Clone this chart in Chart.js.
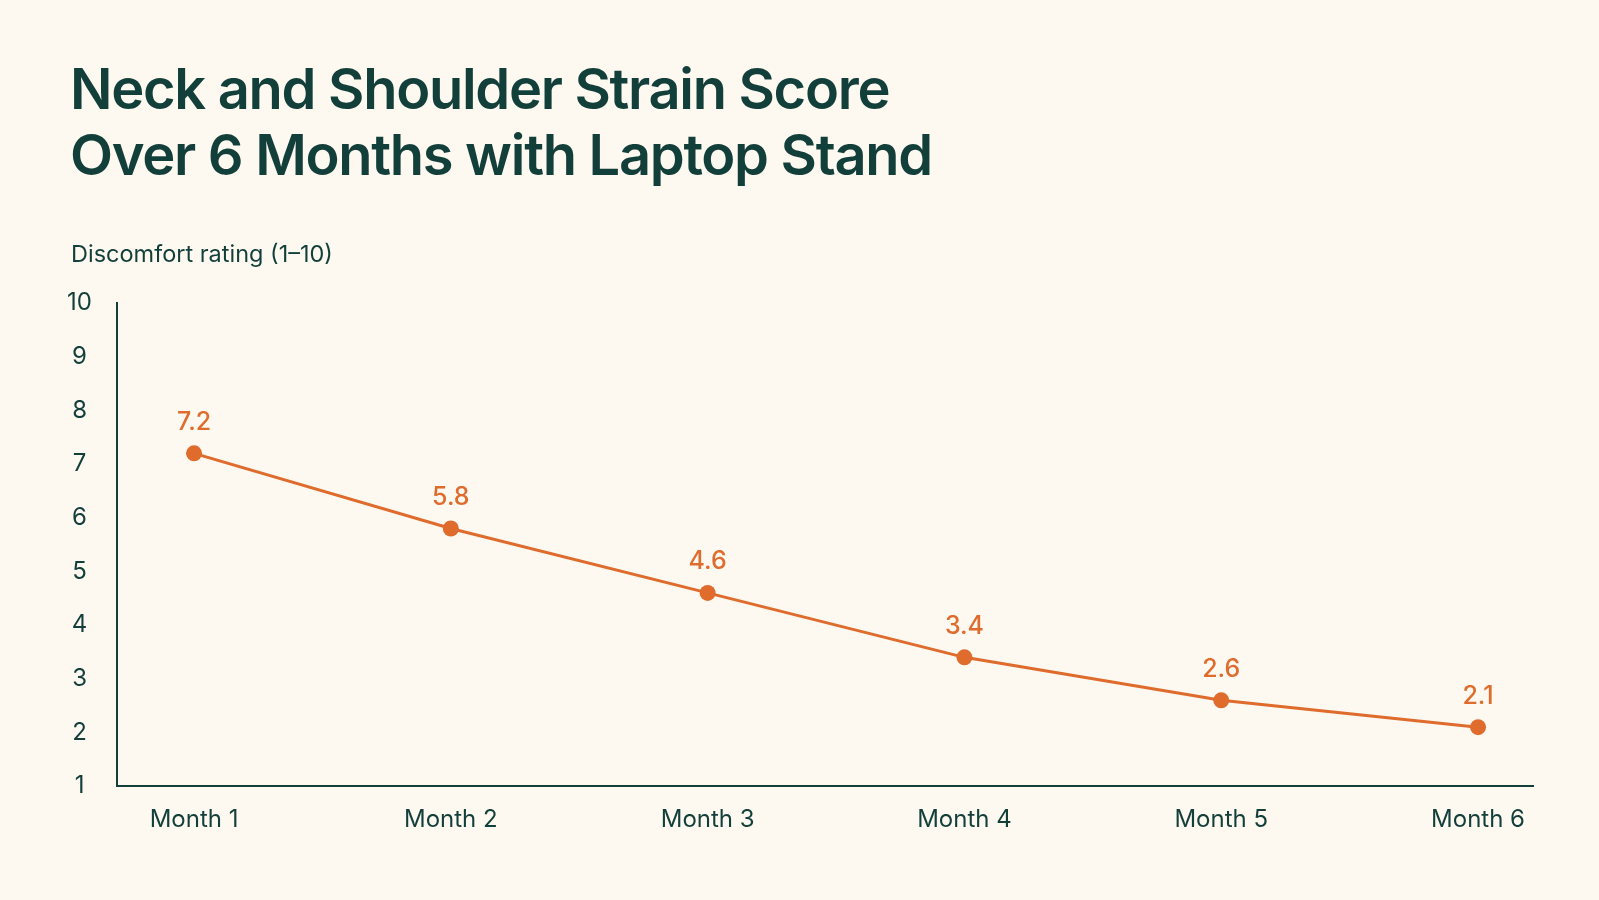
<!DOCTYPE html>
<html>
<head>
<meta charset="utf-8">
<script src="https://cdn.jsdelivr.net/npm/chart.js@4"></script>
<style>
  html, body { margin: 0; padding: 0; background: #fdf9f1; }
  body { width: 1599px; height: 900px; position: relative; overflow: hidden; font-family: Inter, "Noto Sans", sans-serif; }
  #title { position: absolute; left: 70px; top: 56px; font-size: 56px; line-height: 66px; font-weight: 600; color: #133f3a; letter-spacing: -1.3px; }
  #axisTitle { position: absolute; left: 71px; top: 240px; font-size: 23.5px; line-height: 28px; color: #133f3a; }
  #wrap { position: absolute; left: 0; top: 0; width: 1599px; height: 900px; }
</style>
</head>
<body>
<div id="wrap"><canvas id="strainChart"></canvas></div>
<div id="title">Neck and Shoulder Strain Score<br>Over 6 Months with Laptop Stand</div>
<div id="axisTitle">Discomfort rating (1–10)</div>
<script>
// 資料
const months = ['Month 1', 'Month 2', 'Month 3', 'Month 4', 'Month 5', 'Month 6'];
const strainScores = [7.2, 5.8, 4.6, 3.4, 2.6, 2.1];
const yTickValues = [1, 2, 3, 4, 5, 6, 7, 8, 9, 10];

const darkGreen = '#133f3a';
const orange = '#df6b2c';
const fontFamily = 'Inter, "Noto Sans", sans-serif';

// 在每個點上方寫數值
const valueLabels = {
  id: 'valueLabels',
  afterDatasetsDraw(chart) {
    const ctx = chart.ctx;
    const meta = chart.getDatasetMeta(0);
    ctx.save();
    ctx.fillStyle = orange;
    ctx.font = '500 25px ' + fontFamily;
    ctx.textAlign = 'center';
    ctx.textBaseline = 'middle';
    meta.data.forEach((pt, i) => {
      ctx.fillText(strainScores[i].toFixed(1), pt.x, pt.y - 31);
    });
    ctx.restore();
  }
};

const ctx = document.getElementById('strainChart');
new Chart(ctx, {
  type: 'line',
  data: {
    datasets: [{
      data: strainScores.map((v, i) => ({ x: i, y: v })),
      borderColor: orange,
      backgroundColor: orange,
      borderWidth: 3,
      pointRadius: 8,
      pointBackgroundColor: orange,
      pointBorderWidth: 0,
      tension: 0
    }]
  },
  options: {
    responsive: true,
    maintainAspectRatio: false,
    animation: false,
    layout: { padding: { top: 303, right: 66, bottom: 47, left: 0 } },
    plugins: { legend: { display: false }, tooltip: { enabled: false } },
    scales: {
      x: {
        type: 'linear',
        min: -0.3,
        max: 5.214,
        afterBuildTicks: (scale) => { scale.ticks = months.map((_, i) => ({ value: i })); },
        ticks: {
          callback: (v) => months[v],
          color: darkGreen,
          padding: 19,
          maxRotation: 0,
          autoSkip: false,
          font: { size: 24, family: fontFamily }
        },
        grid: { display: false, drawTicks: false },
        border: { color: darkGreen, width: 2 }
      },
      y: {
        min: 1,
        max: 10,
        afterBuildTicks: (scale) => { scale.ticks = yTickValues.map(v => ({ value: v })); },
        afterFit: (scale) => { scale.width = 117; },
        ticks: {
          color: darkGreen,
          padding: 25,
          crossAlign: 'center',
          font: { size: 24, family: fontFamily }
        },
        grid: { display: false, drawTicks: false },
        border: { color: darkGreen, width: 2 }
      }
    }
  },
  plugins: [valueLabels]
});
</script>
</body>
</html>
